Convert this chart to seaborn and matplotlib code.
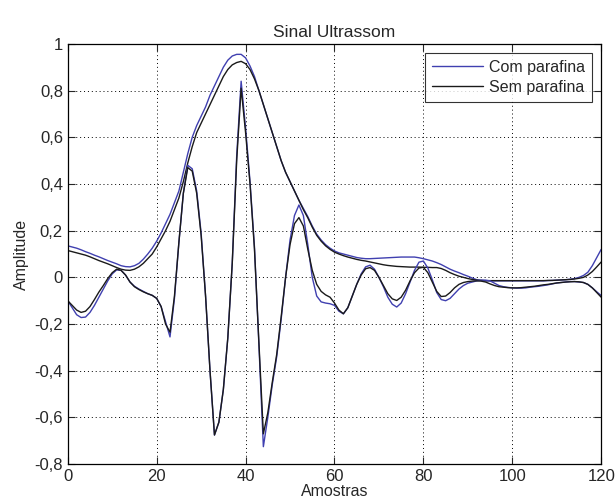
import numpy as np
import pandas as pd
import matplotlib
matplotlib.use("Agg")
import matplotlib.pyplot as plt
import seaborn as sns
from matplotlib.ticker import FuncFormatter

# amostras 0..120
amostras = np.arange(121)

# sinal com parafina (azul)
sinal_com = [
    -0.10, -0.13, -0.16, -0.172, -0.17, -0.15, -0.12, -0.085, -0.05, -0.015,
    0.015, 0.032, 0.03, 0.01, -0.02, -0.038, -0.05, -0.06, -0.07, -0.077,
    -0.09, -0.125, -0.19, -0.255, -0.09, 0.15, 0.36, 0.48, 0.465, 0.37,
    0.19, -0.08, -0.4, -0.675, -0.62, -0.48, -0.26, 0.06, 0.52, 0.84,
    0.64, 0.41, 0.13, -0.29, -0.725, -0.6, -0.46, -0.34, -0.18, 0.0,
    0.16, 0.265, 0.31, 0.265, 0.14, 0.0, -0.08, -0.105, -0.11, -0.113,
    -0.12, -0.145, -0.156, -0.13, -0.08, -0.03, 0.015, 0.045, 0.052, 0.035,
    0.0, -0.04, -0.085, -0.115, -0.127, -0.11, -0.07, -0.02, 0.03, 0.065,
    0.07, 0.04, -0.01, -0.065, -0.095, -0.1, -0.09, -0.07, -0.05, -0.035,
    -0.025, -0.02, -0.015, -0.012, -0.012, -0.015, -0.025, -0.035, -0.04, -0.043,
    -0.045, -0.046, -0.046, -0.045, -0.042, -0.04, -0.038, -0.035, -0.032, -0.028,
    -0.024, -0.022, -0.02, -0.018, -0.018, -0.02, -0.022, -0.03, -0.045, -0.062,
    -0.078,
]

# sinal sem parafina (preto)
sinal_sem = [
    -0.10, -0.12, -0.14, -0.15, -0.145, -0.125, -0.095, -0.063, -0.035, -0.005,
    0.02, 0.035, 0.03, 0.01, -0.02, -0.04, -0.052, -0.062, -0.07, -0.077,
    -0.09, -0.125, -0.2, -0.235, -0.08, 0.15, 0.36, 0.47, 0.455, 0.36,
    0.18, -0.08, -0.4, -0.675, -0.62, -0.48, -0.26, 0.06, 0.5, 0.81,
    0.62, 0.4, 0.12, -0.28, -0.67, -0.58, -0.45, -0.33, -0.17, 0.0,
    0.14, 0.23, 0.256, 0.22, 0.12, 0.03, -0.03, -0.06, -0.075, -0.085,
    -0.11, -0.14, -0.156, -0.13, -0.08, -0.03, 0.01, 0.037, 0.042, 0.03,
    0.0, -0.035, -0.07, -0.092, -0.099, -0.085, -0.055, -0.015, 0.02, 0.04,
    0.043, 0.02, -0.02, -0.06, -0.082, -0.08, -0.065, -0.045, -0.03, -0.022,
    -0.018, -0.016, -0.015, -0.016, -0.02, -0.028, -0.035, -0.04, -0.042, -0.044,
    -0.045, -0.045, -0.044, -0.042, -0.04, -0.038, -0.035, -0.032, -0.03, -0.027,
    -0.024, -0.022, -0.02, -0.019, -0.018, -0.019, -0.022, -0.03, -0.045, -0.065,
    -0.085,
]

# envoltoria com parafina (azul)
env_com = [
    0.135, 0.13, 0.125, 0.118, 0.11, 0.103, 0.095, 0.088, 0.08, 0.072,
    0.065, 0.058, 0.05, 0.046, 0.045, 0.05, 0.06, 0.078, 0.1, 0.125,
    0.155, 0.19, 0.23, 0.27, 0.32, 0.37, 0.45, 0.53, 0.6, 0.65,
    0.69, 0.73, 0.78, 0.82, 0.86, 0.9, 0.93, 0.948, 0.955, 0.955,
    0.94, 0.905, 0.86, 0.8, 0.74, 0.68, 0.62, 0.56, 0.5, 0.45,
    0.41, 0.37, 0.33, 0.295, 0.26, 0.22, 0.185, 0.16, 0.14, 0.125,
    0.113, 0.105, 0.1, 0.095, 0.09, 0.085, 0.082, 0.08, 0.08, 0.081,
    0.082, 0.083, 0.084, 0.085, 0.086, 0.087, 0.087, 0.087, 0.087, 0.084,
    0.08, 0.075, 0.07, 0.063, 0.055, 0.045, 0.035, 0.027, 0.02, 0.012,
    0.005, -0.003, -0.01, -0.013, -0.015, -0.015, -0.015, -0.015, -0.015, -0.015,
    -0.015, -0.015, -0.015, -0.015, -0.015, -0.015, -0.015, -0.015, -0.014, -0.013,
    -0.012, -0.011, -0.01, -0.008, -0.005, 0.0, 0.008, 0.022, 0.05, 0.085,
    0.12,
]

# envoltoria sem parafina (preto)
env_sem = [
    0.115, 0.11, 0.105, 0.1, 0.095, 0.088, 0.08, 0.072, 0.065, 0.058,
    0.05, 0.042, 0.035, 0.031, 0.03, 0.035, 0.045, 0.06, 0.08, 0.1,
    0.13, 0.165, 0.2, 0.24, 0.29, 0.34, 0.41, 0.49, 0.56, 0.62,
    0.66, 0.7, 0.74, 0.78, 0.82, 0.86, 0.89, 0.91, 0.92, 0.925,
    0.915, 0.89, 0.85, 0.8, 0.74, 0.68, 0.62, 0.56, 0.5, 0.45,
    0.41, 0.37, 0.33, 0.29, 0.255, 0.215, 0.18, 0.155, 0.135, 0.12,
    0.108, 0.1, 0.093, 0.087, 0.082, 0.077, 0.073, 0.07, 0.066, 0.062,
    0.058, 0.054, 0.051, 0.049, 0.047, 0.046, 0.045, 0.044, 0.044, 0.044,
    0.043, 0.043, 0.042, 0.042, 0.038, 0.03, 0.02, 0.012, 0.005, 0.0,
    -0.005, -0.009, -0.012, -0.013, -0.014, -0.014, -0.014, -0.014, -0.014, -0.014,
    -0.014, -0.014, -0.014, -0.014, -0.014, -0.014, -0.014, -0.014, -0.013, -0.013,
    -0.012, -0.011, -0.01, -0.009, -0.007, -0.004, 0.0, 0.01, 0.025, 0.045,
    0.066,
]

azul = "#4040b0"
preto = "#1a1a1a"

sns.set_style("ticks")
plt.rcParams["font.family"] = ["Liberation Sans", "DejaVu Sans"]


def fmt_virgula(v, pos):
    if abs(v - round(v)) < 1e-9:
        return str(int(round(v)))
    return f"{v:.1f}".replace(".", ",")


fig = plt.figure(figsize=(6.16, 5.04), dpi=100)
ax = fig.add_axes([0.110, 0.079, 0.866, 0.834])

sns.lineplot(x=amostras, y=env_com, color=azul, linewidth=1.0, ax=ax)
sns.lineplot(x=amostras, y=env_sem, color=preto, linewidth=1.0, ax=ax)
sns.lineplot(x=amostras, y=sinal_com, color=azul, linewidth=1.0, ax=ax, label="Com parafina")
sns.lineplot(x=amostras, y=sinal_sem, color=preto, linewidth=1.0, ax=ax, label="Sem parafina")

ax.set_xlim(0, 120)
ax.set_ylim(-0.8, 1)
ax.set_xticks(np.arange(0, 121, 20))
ax.set_yticks(np.arange(-0.8, 1.01, 0.2))
ax.yaxis.set_major_formatter(FuncFormatter(fmt_virgula))
ax.grid(True, linestyle=(0, (1, 3)), color="black", linewidth=0.7)
ax.tick_params(direction="in", top=True, right=True, labelsize=12, length=5, width=0.8)
for s in ax.spines.values():
    s.set_linewidth(0.9)
    s.set_color("black")

ax.set_title("Sinal Ultrassom", fontsize=12.5, pad=5)
ax.set_xlabel("Amostras", fontsize=11.5, labelpad=0)
ax.set_ylabel("Amplitude", fontsize=11.5, labelpad=4)

leg = ax.legend(loc="upper right", fontsize=11.5, handlelength=3.2, frameon=True,
                fancybox=False, borderpad=0.45, labelspacing=0.3, handletextpad=0.4,
                borderaxespad=0.55)
leg.get_frame().set_edgecolor("black")
leg.get_frame().set_linewidth(0.8)

fig.savefig("out.png", dpi=100, facecolor="white")
